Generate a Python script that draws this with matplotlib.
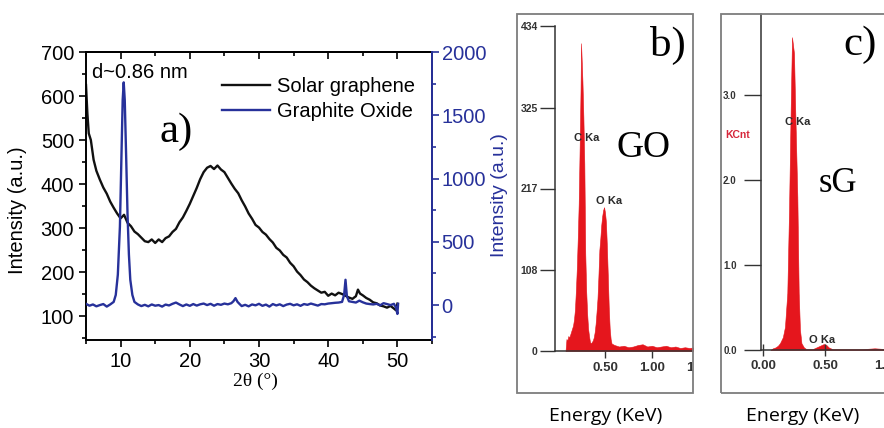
import matplotlib
matplotlib.use("Agg")
import matplotlib.pyplot as plt
from matplotlib.patches import Rectangle
from matplotlib.ticker import MultipleLocator

W, H = 884, 428

# --- a) XRD patterns ---
two_theta_sg = [5.0, 5.2, 5.4, 5.7, 6.1, 6.5, 7.0, 7.5, 8.0, 8.5, 9.0, 9.5, 10.0, 10.5,
                11.0, 11.5, 12.0, 12.5, 13.0, 13.5, 14.0, 14.5, 15.0, 15.5, 16.0, 16.5,
                17.0, 17.5, 18.0, 18.5, 19.0, 19.5, 20.0, 20.5, 21.0, 21.5, 22.0, 22.5,
                23.0, 23.5, 24.0, 24.5, 25.0, 25.5, 26.0, 26.5, 27.0, 27.5, 28.0, 28.5,
                29.0, 29.5, 30.0, 30.5, 31.0, 31.5, 32.0, 32.5, 33.0, 33.5, 34.0, 34.5,
                35.0, 35.5, 36.0, 36.5, 37.0, 37.5, 38.0, 38.5, 39.0, 39.5, 40.0, 40.5,
                41.0, 41.5, 42.0, 42.5, 43.0, 43.5, 44.0, 44.3, 44.6, 45.0, 45.5, 46.0,
                46.5, 47.0, 47.5, 48.0, 48.5, 49.0, 49.5, 49.8, 50.0]
intensity_sg = [625, 560, 515, 500, 455, 430, 410, 392, 378, 360, 346, 333, 322, 330,
                312, 304, 292, 286, 278, 270, 268, 274, 266, 274, 268, 277, 281, 291,
                298, 313, 324, 339, 355, 373, 391, 411, 427, 437, 441, 434, 442, 433,
                427, 414, 401, 389, 379, 363, 349, 333, 321, 307, 301, 291, 285, 275,
                267, 255, 249, 239, 233, 221, 213, 201, 193, 183, 177, 169, 163, 158,
                153, 155, 146, 151, 147, 153, 150, 146, 142, 139, 145, 160, 151, 147,
                141, 137, 131, 129, 124, 122, 119, 123, 117, 113, 128]

two_theta_go = [5.0, 5.5, 6.0, 6.5, 7.0, 7.5, 8.0, 8.5, 9.0, 9.3, 9.6, 9.9, 10.1, 10.3,
                10.45, 10.6, 10.8, 11.0, 11.2, 11.4, 11.7, 12.0, 12.5, 13.0, 13.5, 14.0,
                14.5, 15.0, 15.5, 16.0, 16.5, 17.0, 17.5, 18.0, 18.5, 19.0, 19.5, 20.0,
                20.5, 21.0, 21.5, 22.0, 22.5, 23.0, 23.5, 24.0, 24.5, 25.0, 25.5, 26.0,
                26.3, 26.6, 26.9, 27.2, 27.5, 28.0, 28.5, 29.0, 29.5, 30.0, 30.5, 31.0,
                31.5, 32.0, 32.5, 33.0, 33.5, 34.0, 34.5, 35.0, 35.5, 36.0, 36.5, 37.0,
                37.5, 38.0, 38.5, 39.0, 39.5, 40.0, 40.5, 41.0, 41.5, 42.0, 42.3, 42.5,
                42.7, 43.0, 43.5, 44.0, 44.5, 45.0, 45.5, 46.0, 46.5, 47.0, 47.5, 48.0,
                48.5, 49.0, 49.5, 49.8, 50.0, 50.1]
intensity_go = [10, -5, 5, -10, 0, 8, -12, 5, 25, 80, 240, 620, 1120, 1620,
                1760, 1620, 1180, 720, 400, 200, 80, 25, 5, -8, 2, -10,
                5, -5, 0, -12, 4, -3, 10, 20, 5, -8, 5, -6,
                8, -4, 6, 12, 0, 10, -5, 8, 2, 12, 6, 15,
                30, 55, 25, 8, -8, 2, -10, 5, -2, 10, -6, 4,
                -12, 8, -3, 6, -8, 4, 10, -2, 6, -6, 8, 2,
                12, 4, -4, 8, 6, 12, 15, 18, 20, 25, 80, 200,
                70, 30, 25, 20, 35, 22, 12, 8, 5, 10, -2, 15,
                8, 0, 10, -20, -70, 10]

# --- b) EDS spectrum of GO ---
energy_go = [0.08, 0.09, 0.10, 0.11, 0.12, 0.13, 0.14, 0.15, 0.16, 0.17, 0.18, 0.19,
             0.20, 0.21, 0.22, 0.23, 0.24, 0.245, 0.25, 0.26, 0.27, 0.28, 0.29, 0.30,
             0.31, 0.32, 0.33, 0.34, 0.35, 0.36, 0.37, 0.38, 0.39, 0.40, 0.41, 0.42,
             0.43, 0.44, 0.45, 0.46, 0.47, 0.48, 0.49, 0.50, 0.51, 0.52, 0.53, 0.54,
             0.55, 0.56, 0.57, 0.60, 0.65, 0.70, 0.75, 0.80, 0.85, 0.90, 0.95, 1.00,
             1.05, 1.10, 1.15, 1.20, 1.25, 1.30, 1.35, 1.40, 1.45, 1.50, 1.55]
counts_go = [0, 16, 14, 20, 18, 22, 26, 30, 34, 42, 55, 80,
             110, 150, 196, 270, 350, 411, 395, 360, 312, 250, 130, 80,
             50, 30, 20, 12, 10, 12, 14, 18, 25, 36, 52, 70,
             100, 135, 150, 168, 180, 188, 192, 185, 172, 140, 100, 58,
             30, 16, 10, 8, 6, 7, 5, 6, 8, 9, 6, 7,
             5, 6, 7, 5, 6, 4, 5, 4, 5, 4, 3]
go_yticks = [0, 108, 217, 325, 434]

# --- c) EDS spectrum of solar graphene ---
energy_sg = [0.06, 0.08, 0.10, 0.12, 0.137, 0.16, 0.177, 0.196, 0.21, 0.223, 0.234,
             0.25, 0.26, 0.277, 0.288, 0.298, 0.31, 0.33, 0.35, 0.40, 0.43, 0.46,
             0.49, 0.51, 0.53, 0.56, 0.60, 0.70, 0.80, 0.90, 1.00, 1.10, 1.20]
kcnt_sg = [0.0, 0.02, 0.03, 0.05, 0.08, 0.15, 0.27, 0.67, 1.65, 2.82, 3.68,
           3.49, 2.82, 1.80, 0.67, 0.24, 0.08, 0.03, 0.01, 0.01, 0.03, 0.05,
           0.07, 0.06, 0.03, 0.01, 0.01, 0.01, 0.01, 0.02, 0.01, 0.01, 0.01]
sg_yticks = [0.0, 1.0, 2.0, 3.0]

BLACK = "#111111"
BLUE = "#27319a"
RED = "#e5161d"
SANS = "Liberation Sans"
SERIF = "Liberation Serif"


def px_box(left, top, right, bottom):
    # axes rectangle from pixel edges of the 884x428 canvas
    return [left / W, 1 - bottom / H, (right - left) / W, (bottom - top) / H]


def px_text(x, y, s, **kw):
    fig.text(x / W, 1 - y / H, s, ha="center", va="center", **kw)


plt.rcParams["font.family"] = SANS
fig = plt.figure(figsize=(W / 100, H / 100), dpi=100)

# ---------------- panel a ----------------
ax = fig.add_axes(px_box(86, 52, 432, 340))
ax.plot(two_theta_sg, intensity_sg, color=BLACK, lw=1.7, label="Solar graphene")
ax.set_xlim(5, 55)
ax.set_ylim(45.5, 700)
ax.set_xticks([10, 20, 30, 40, 50])
ax.xaxis.set_minor_locator(MultipleLocator(5))
ax.set_yticks(range(100, 701, 100))
ax.yaxis.set_minor_locator(MultipleLocator(50))
ax.tick_params(which="both", direction="out", labelsize=14.5, width=1.2)
ax.tick_params(which="major", length=5)
ax.tick_params(which="minor", length=3)
for sp in ax.spines.values():
    sp.set_linewidth(1.4)
top = ax.secondary_xaxis("top")
top.set_xticks([10, 20, 30, 40, 50])
top.xaxis.set_minor_locator(MultipleLocator(5))
top.tick_params(which="both", direction="in", labeltop=False, width=1.2)
top.tick_params(which="major", length=5)
top.tick_params(which="minor", length=3)
top.spines["top"].set_linewidth(1.4)

ax2 = ax.twinx()
ax2.plot(two_theta_go, intensity_go, color=BLUE, lw=1.7, label="Graphite Oxide")
ax2.set_ylim(-276, 2000)
ax2.set_yticks(range(0, 2001, 500))
ax2.yaxis.set_minor_locator(MultipleLocator(250))
ax2.tick_params(which="both", direction="out", colors=BLUE, labelsize=14.5, width=1.2, pad=2)
ax2.tick_params(which="major", length=5)
ax2.tick_params(which="minor", length=3)
for name, sp in ax2.spines.items():
    sp.set_visible(name == "right")
ax2.spines["right"].set_color(BLUE)
ax2.spines["right"].set_linewidth(1.4)

h1, l1 = ax.get_legend_handles_labels()
h2, l2 = ax2.get_legend_handles_labels()
ax2.legend(h1 + h2, l1 + l2, loc="upper left", bbox_to_anchor=(222 / W, 1 - 77 / H),
           bbox_transform=fig.transFigure, frameon=False, fontsize=14.5,
           handlelength=2.4, handletextpad=0.35, labelspacing=0.32,
           borderpad=0, borderaxespad=0)

px_text(18, 210, "Intensity (a.u.)", fontsize=14.5, rotation=90)
px_text(499, 195, "Intensity (a.u.)", fontsize=14, rotation=90, color=BLUE)
px_text(255, 381, "2\u03b8 (\u00b0)", fontsize=14, family=SERIF)
px_text(140, 72, "d~0.86 nm", fontsize=14.5)
px_text(176, 132, "a)", fontsize=31, family=SERIF)

# ---------------- panel b ----------------
ax_b = fig.add_axes(px_box(555, 26, 702, 351))
ax_b.patch.set_visible(False)
ax_b.fill_between(energy_go, counts_go, color=RED, lw=0.4, ec=RED)
ax_b.set_xlim(-0.032, 1.532)
ax_b.set_ylim(0, 434)
ax_b.set_xticks([0.5, 1.0, 1.5], ["0.50", "1.00", "1.50"])
ax_b.set_yticks(go_yticks, [str(v) for v in go_yticks])
ax_b.spines[["top", "right"]].set_visible(False)
for sp in ax_b.spines.values():
    sp.set_color("#333333")
    sp.set_linewidth(1.1)
ax_b.tick_params(axis="y", length=11, pad=1.5, labelsize=7.5, colors="#333333", width=1)
ax_b.tick_params(axis="x", length=5, pad=3, labelsize=9.5, colors="#333333", width=1)
for lbl in ax_b.get_xticklabels() + ax_b.get_yticklabels():
    lbl.set_fontweight("bold")
ax_b.text(0.31, 284, "C Ka", fontsize=8, fontweight="bold", color="#2a2a2a", ha="center", va="center")
ax_b.text(0.54, 200, "O Ka", fontsize=8, fontweight="bold", color="#2a2a2a", ha="center", va="center")

frame_b = Rectangle((517 / W, 1 - 393 / H), 176 / W, 379 / H, transform=fig.transFigure,
                    fill=False, ec="#7d7d7d", lw=1.3)
fig.add_artist(frame_b)
px_text(668, 45, "b)", fontsize=31, family=SERIF)
px_text(643, 148, "GO", fontsize=27, family=SERIF)
px_text(606, 416, "Energy (KeV)", fontsize=14, family="Open Sans")

# ---------------- panel c ----------------
ax_c = fig.add_axes(px_box(761, 14, 910, 350))
ax_c.patch.set_visible(False)
ax_c.fill_between(energy_sg, kcnt_sg, color=RED, lw=0.4, ec=RED)
ax_c.set_xlim(-0.016, 1.185)
ax_c.set_ylim(0, 3.953)
ax_c.set_xticks([0.0, 0.5, 1.0], ["0.00", "0.50", "1.00"])
ax_c.set_yticks(sg_yticks, [f"{v:.1f}" for v in sg_yticks])
ax_c.spines[["top", "right"]].set_visible(False)
for sp in ax_c.spines.values():
    sp.set_color("#333333")
    sp.set_linewidth(1.1)
ax_c.tick_params(axis="y", length=12, pad=5.5, labelsize=7, colors="#333333", width=1)
ax_c.tick_params(axis="x", direction="inout", length=9, pad=3, labelsize=9.5,
                 colors="#333333", width=1)
for lbl in ax_c.get_xticklabels() + ax_c.get_yticklabels():
    lbl.set_fontweight("bold")
ax_c.text(0.28, 2.68, "C Ka", fontsize=8, fontweight="bold", color="#2a2a2a", ha="center", va="center")
ax_c.text(0.48, 0.12, "O Ka", fontsize=8, fontweight="bold", color="#2a2a2a", ha="center", va="center")

frame_c = Rectangle((721 / W, 1 - 393 / H), 190 / W, 379 / H, transform=fig.transFigure,
                    fill=False, ec="#7d7d7d", lw=1.3)
fig.add_artist(frame_c)
px_text(738, 135, "KCnt", fontsize=7.5, fontweight="bold", color="#d6263a")
px_text(860, 45, "c)", fontsize=31, family=SERIF)
px_text(838, 183, "sG", fontsize=25, family=SERIF)
px_text(803, 416, "Energy (KeV)", fontsize=14, family="Open Sans")

# clip the GO spectrum panel to its grey frame (the 1.50 label is cut in the original)
fig.canvas.draw()
clipped = list(ax_b.collections) + [ax_b.spines["bottom"]]
for tick in ax_b.xaxis.get_major_ticks():
    clipped += [tick.label1, tick.tick1line]
for art in clipped:
    art.set_clip_on(True)
    art.set_clip_path(frame_b)

fig.savefig("out.png", dpi=100)
